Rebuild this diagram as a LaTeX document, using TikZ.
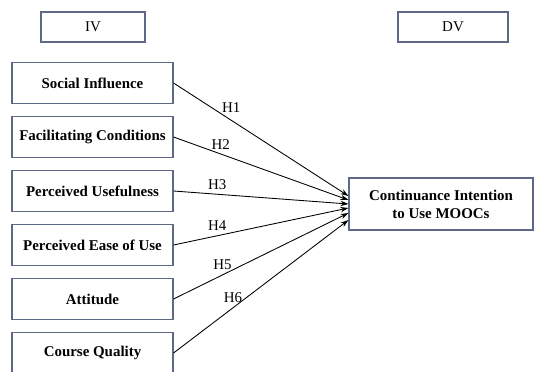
\documentclass[tikz,border=0pt]{standalone}
\usepackage{fontspec}
\setmainfont{Liberation Serif}
\usepackage{xcolor}
\usepackage{tikz}
\usetikzlibrary{positioning,arrows.meta}
\definecolor{boxline}{RGB}{95,105,135}

\begin{document}
\begin{tikzpicture}[x=0.75pt,y=-0.75pt,node distance=40.5pt]
\tikzstyle{block} = [rectangle, draw=boxline, line width=0.8pt, minimum width=120.75pt, minimum height=30.75pt, align=center, font=\fontsize{11.2}{13.5}\selectfont\bfseries]
\tikzstyle{head} = [rectangle, draw=boxline, line width=0.8pt, minimum height=22.5pt, font=\fontsize{11.2}{13}\selectfont]
\tikzstyle{arrow} = [line width=0.65pt,->,>={Stealth[length=6pt,width=4pt]}]
\tikzstyle{hyp} = [above, font=\fontsize{11.2}{13}\selectfont]

\useasboundingbox (0,0) rectangle (535,371);

\node (iv) [head, minimum width=78pt] at (93,27) {IV};
\node (dv) [head, minimum width=82.5pt] at (453,27) {DV};

\node (si) [block] at (92.5,83) {Social Influence};
\node (fc) [block, below of=si] {Facilitating Conditions};
\node (pu) [block, below of=fc] {Perceived Usefulness};
\node (peu) [block, below of=pu] {Perceived Ease of Use};
\node (att) [block, below of=peu] {Attitude};
\node (cq) [block, below of=att] {Course Quality};

\node (ci) [block, minimum width=138pt, minimum height=39pt] at (441,204) {Continuance Intention\\to Use MOOCs};

\draw [arrow] (si.east) -- node[hyp, pos=0.33, yshift=2pt] {H1} ([yshift=6pt]ci.west);
\draw [arrow] (fc.east) -- node[hyp, pos=0.27] {H2} ([yshift=3pt]ci.west);
\draw [arrow] (pu.east) -- node[hyp, pos=0.25] {H3} (ci.west);
\draw [arrow] (peu.east) -- node[hyp, pos=0.25] {H4} ([yshift=-3pt]ci.west);
\draw [arrow] (att.east) -- node[hyp, pos=0.28] {H5} ([yshift=-6.75pt]ci.west);
\draw [arrow] (cq.east) -- node[hyp, pos=0.34] {H6} ([yshift=-12pt]ci.west);

\end{tikzpicture}
\end{document}
